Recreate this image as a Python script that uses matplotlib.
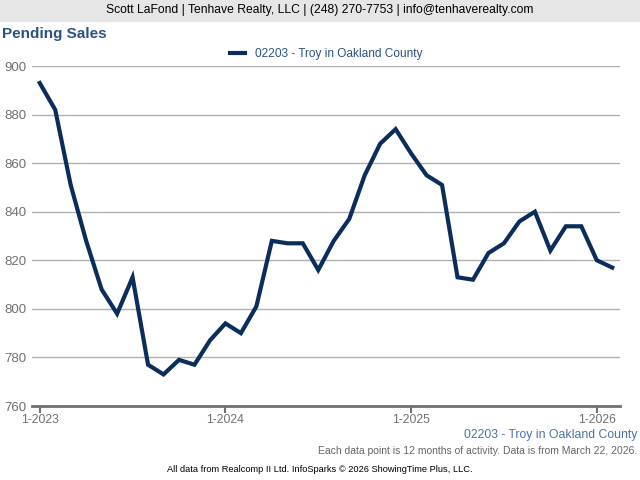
import numpy as np
import matplotlib.pyplot as plt

plt.rcParams['font.family'] = ['Liberation Sans', 'DejaVu Sans']

# --- data: monthly rolling 12-month pending sales, Jan 2023 .. Feb 2026 ---
series_name = '02203 - Troy in Oakland County'
pending = [893, 882, 851, 828, 808, 798, 813, 777, 773, 779, 777, 787,
           794, 790, 801, 828, 827, 827, 816, 828, 837, 855, 868, 874,
           864, 855, 851, 813, 812, 823, 827, 836, 840, 824, 834, 834,
           820, 817]
tick_pos = [0, 12, 24, 36]
tick_labels = ['1-2023', '1-2024', '1-2025', '1-2026']
y_ticks = [760, 780, 800, 820, 840, 860, 880, 900]

navy = '#0b2d5c'
blue_text = '#2c5282'

fig = plt.figure(figsize=(6.4, 4.8), dpi=100)

# top banner
fig.patches.append(plt.Rectangle((0, 1 - 21/480), 1, 21/480, transform=fig.transFigure,
                                 color='#e6e6e6', zorder=0))
fig.text(0.5, 1 - 10/480, 'Scott LaFond | Tenhave Realty, LLC | (248) 270-7753 | info@tenhaverealty.com',
         ha='center', va='center', fontsize=8.7, color='black')
fig.text(2/640, 1 - 34/480, 'Pending Sales', ha='left', va='center',
         fontsize=11, fontweight='bold', color=blue_text)

ax = fig.add_axes([32/640, 1 - 406/480, 588/640, 340/480])
x = np.arange(len(pending))
ax.plot(x, pending, color=navy, linewidth=3, solid_joinstyle='miter', label=series_name)

ax.set_xlim(-0.5, 37.5)
ax.set_ylim(760, 900)
ax.set_yticks(y_ticks)
ax.set_xticks(tick_pos)
ax.set_xticklabels(tick_labels)
ax.grid(axis='y', color='#b0b0b0', linewidth=1)
ax.set_axisbelow(True)
for s in ['top', 'right', 'left']:
    ax.spines[s].set_visible(False)
ax.spines['bottom'].set_color('#707070')
ax.spines['bottom'].set_linewidth(2)
ax.tick_params(axis='y', length=0, pad=4, labelsize=9.5, labelcolor='#707070')
ax.tick_params(axis='x', length=5, width=1.5, color='#707070', direction='out',
               pad=1, labelsize=8.8, labelcolor='#707070')

leg = ax.legend(loc='lower center', bbox_to_anchor=(0.5, 1.0), frameon=False,
                fontsize=8.6, handlelength=1.3, borderaxespad=0.1)
for t in leg.get_texts():
    t.set_color(blue_text)

fig.text(637/640, 1 - 435/480, series_name, ha='right', va='center',
         fontsize=8.8, color='#4a73a8')
fig.text(637/640, 1 - 451/480, 'Each data point is 12 months of activity. Data is from March 22, 2026.',
         ha='right', va='center', fontsize=7.5, color='#666666')
fig.text(0.5, 1 - 469/480, 'All data from Realcomp II Ltd. InfoSparks \u00a9 2026 ShowingTime Plus, LLC.',
         ha='center', va='center', fontsize=6.7, color='black')

fig.savefig('out.png', dpi=100)
